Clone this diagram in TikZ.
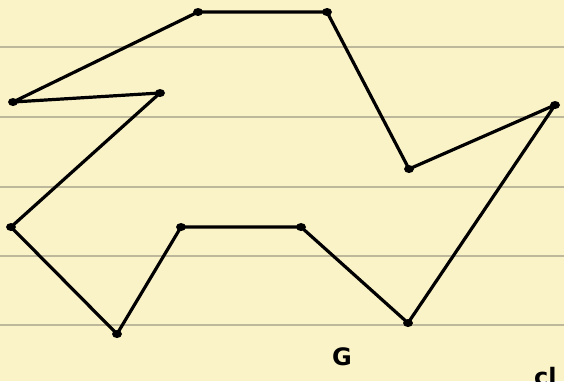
\documentclass[tikz,border=0pt]{standalone}
\usepackage{fontspec}
\setsansfont{DejaVu Sans}
\definecolor{paper}{HTML}{FBF3C8}
\definecolor{rule}{HTML}{BDB89C}
\usetikzlibrary{shapes.geometric}
\tikzset{
  pt/.style={ellipse,fill=black,inner sep=0pt,minimum width=10pt,minimum height=8pt},
  edge/.style={line width=3.2pt,line join=round,line cap=round},
  ruling/.style={rule,line width=1.3pt},
  hand/.style={font=\sffamily\bfseries\fontsize{24}{24}\selectfont,inner sep=0pt}
}
\begin{document}
\begin{tikzpicture}[x=1pt,y=-1pt]
\useasboundingbox (0,0) rectangle (564,381);
\clip (0,0) rectangle (564,381);
\fill[paper] (0,0) rectangle (564,381);
\foreach \yy in {47,117,187,256,325}
  \draw[ruling] (0,\yy) -- (564,\yy);
\node[pt] (a) at (198,12) {};
\node[pt] (b) at (327,12) {};
\node[pt] (c) at (409,169) {};
\node[pt] (d) at (555,105) {};
\node[pt] (e) at (408,323) {};
\node[pt] (f) at (301,227) {};
\node[pt] (g) at (181,227) {};
\node[pt] (h) at (117,334) {};
\node[pt] (i) at (11,227) {};
\node[pt] (j) at (160,93) {};
\node[pt] (k) at (13,102) {};
\draw[edge] (a.center) -- (b.center) -- (c.center) -- (d.center) -- (e.center) -- (f.center) -- (g.center) -- (h.center) -- (i.center) -- (j.center) -- (k.center) -- cycle;
\node[hand] (lg) at (342,357) {G};
\node[hand,anchor=west] (lc) at (534,377) {cl};
\end{tikzpicture}
\end{document}
